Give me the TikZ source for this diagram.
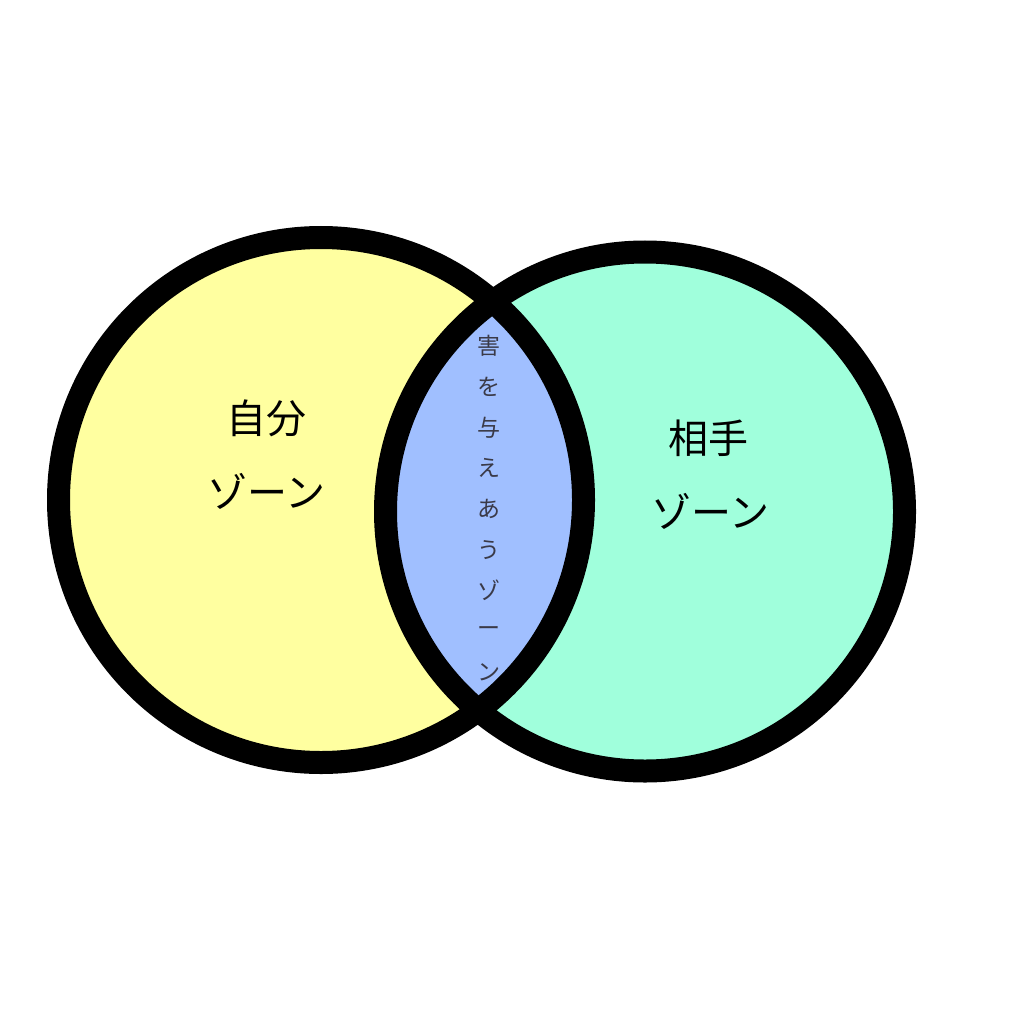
\documentclass[tikz,border=0pt]{standalone}
\usepackage{fontspec}
\newfontfamily\jp{Noto Sans CJK JP}
\definecolor{yel}{HTML}{FFFFA0}
\definecolor{mint}{HTML}{A0FFDC}
\definecolor{lens}{HTML}{A0BFFF}
\definecolor{txt}{HTML}{3A3A48}
\tikzset{ring/.style={draw=black,line width=23pt},
  big/.style={font=\jp\fontsize{40}{44}\selectfont,text=black,inner sep=0pt},
  ch/.style={font=\jp\fontsize{23}{24}\selectfont,text=txt,inner sep=0pt}}
\begin{document}
\begin{tikzpicture}[x=1pt,y=-1pt]
\useasboundingbox (0,0) rectangle (1024,1024);
\coordinate (cl) at (321,500);
\coordinate (cr) at (645,511.5);
\fill[yel] (cl) circle (262.5);
\fill[mint] (cr) circle (259.5);
\begin{scope}
\clip (cl) circle (262.5);
\fill[lens] (cr) circle (259.5);
\end{scope}
\draw[ring] (cl) circle (262.5);
\draw[ring] (cr) circle (259.5);
\node[big] (a1) at (266,418) {自分};
\node[big] (a2) at (266,491) {ゾーン};
\node[big] (b1) at (708,438) {相手};
\node[big] (b2) at (710,511) {ゾーン};
\foreach \c [count=\i] in {害,を,与,え,あ,う,ゾ,ー,ン}
  \node[ch] (t\i) at (489,{346+40.75*(\i-1)}) {\c};
\end{tikzpicture}
\end{document}
